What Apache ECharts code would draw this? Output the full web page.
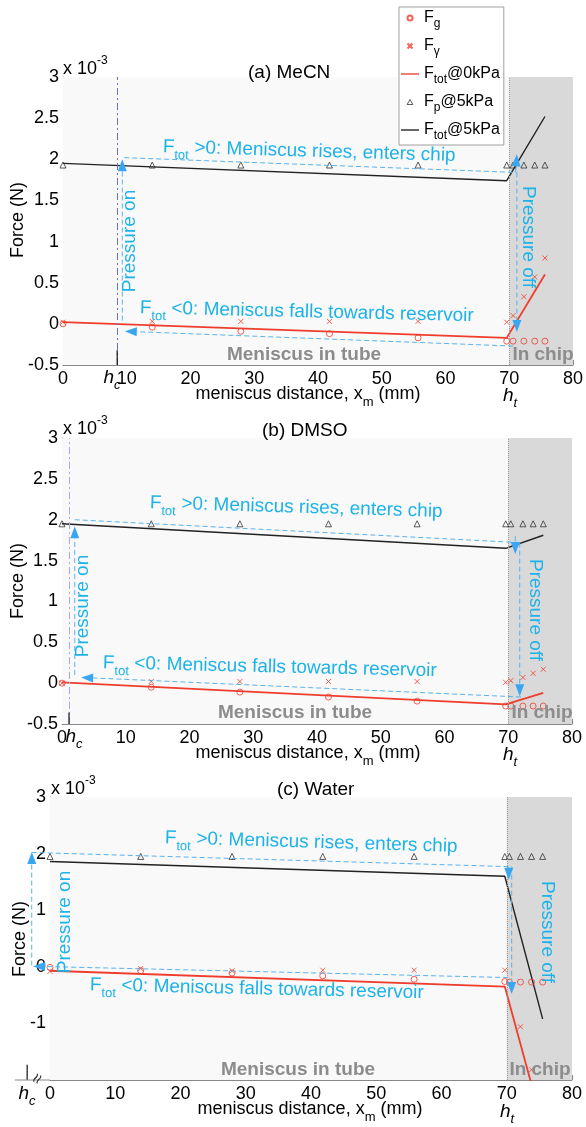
<!DOCTYPE html>
<html><head><meta charset="utf-8">
<script src="https://cdn.jsdelivr.net/npm/echarts@6/dist/echarts.min.js"></script>
<style>html,body{margin:0;padding:0;background:#fff}#c{width:586px;height:1127px}</style>
</head><body><div id="c"></div>
<script>
// ================= DATA =================
// (a) MeCN
const xMeCN     = [0, 14.0, 27.9, 41.8, 55.7, 69.6, 70.6, 72.3, 74.0, 75.6];
const FgMeCN    = [0.00, -0.04, -0.09, -0.12, -0.17, -0.21, -0.21, -0.21, -0.21, -0.21];
const FgamMeCN  = [0.02, 0.03, 0.03, 0.03, 0.03, 0.02, 0.10, 0.33, 0.57, 0.80];
const FpMeCN    = [1.93, 1.93, 1.93, 1.93, 1.93, 1.93, 1.93, 1.93, 1.93, 1.93];
const totXMeCN  = [0, 69.6, 75.6];
const Ftot0MeCN = [0.02, -0.17, 0.60];
const Ftot5MeCN = [1.95, 1.74, 2.52];
// (b) DMSO
const xDMSO     = [0, 14.0, 27.9, 41.8, 55.7, 69.6, 70.4, 72.3, 73.9, 75.5];
const FgDMSO    = [0.00, -0.05, -0.11, -0.17, -0.22, -0.28, -0.28, -0.28, -0.28, -0.28];
const FgamDMSO  = [0.00, 0.02, 0.02, 0.02, 0.02, 0.01, 0.03, 0.07, 0.12, 0.17];
const FpDMSO    = [1.95, 1.95, 1.95, 1.95, 1.95, 1.95, 1.95, 1.95, 1.95, 1.95];
const totXDMSO  = [0, 69.6, 75.5];
const Ftot0DMSO = [0.01, -0.26, -0.12];
const Ftot5DMSO = [1.95, 1.65, 1.81];
// (c) Water
const xWater     = [0, 13.9, 27.9, 41.8, 55.8, 69.7, 70.4, 72.1, 73.8, 75.5];
const FgWater    = [-0.01, -0.07, -0.11, -0.16, -0.22, -0.26, -0.27, -0.27, -0.27, -0.27];
const FgamWater  = [-0.08, -0.03, -0.07, -0.06, -0.06, -0.06, null, -1.06, -1.82, null];
const FpWater    = [1.95, 1.95, 1.95, 1.95, 1.95, 1.95, 1.95, 1.95, 1.95, 1.95];
const totXWater  = [0, 69.7, 75.5];
const Ftot0Water = [-0.07, -0.35, -2.80];
const Ftot5Water = [1.86, 1.60, -0.92];

// annotation arrows [x1, y1, x2(tip), y2(tip), head]
const arrowsMeCN = [[9.3,0.04,9.3,2.00,1],[9.6,2.02,71.1,1.84,0],[71.0,1.84,71.2,2.06,1],[71.2,1.84,71.2,-0.10,1],[70.6,-0.27,9.7,-0.09,1]];
const arrowsDMSO = [[2.0,0.10,2.0,1.92,1],[2.0,2.00,71.8,1.72,0],[71.1,1.80,71.1,1.58,1],[71.8,1.72,71.8,-0.16,1],[72.0,-0.17,3.0,0.07,1]];
const arrowsWater= [[-2.8,0.02,-2.8,2.03,1],[-2.8,2.02,70.3,1.77,0],[70.3,1.77,70.3,1.54,1],[70.75,1.77,70.75,-0.48,1],[70.2,-0.19,-2.6,0.01,1]];

// ================= STYLE =================
const F = '"Liberation Sans", Arial, Helvetica, sans-serif';
const RED = '#ee3d2d', BLACK = '#222222', BLUE_T = '#1db3e9', BLUE_L = '#58b3f0', BLUE_H = '#3aa6f0', GRAY_T = '#8c8c8c';

const panels = [
  {x:xMeCN, Fg:FgMeCN, Fgam:FgamMeCN, Fp:FpMeCN, tx:totXMeCN, t0:Ftot0MeCN, t5:Ftot5MeCN, arrows:arrowsMeCN,
   ymin:-0.5, ymax:3, yint:0.5, grid:{left:63, right:13, top:77, height:288},
   hc:8.5, hcColor:'#6c6cd8', hcTick:[-0.5,-0.32], ext:null},
  {x:xDMSO, Fg:FgDMSO, Fgam:FgamDMSO, Fp:FpDMSO, tx:totXDMSO, t0:Ftot0DMSO, t5:Ftot5DMSO, arrows:arrowsDMSO,
   ymin:-0.5, ymax:3, yint:0.5, grid:{left:62, right:14, top:438, height:286},
   hc:1.1, hcColor:'#a8a8f0', hcTick:[-0.5,-0.36], ext:null},
  {x:xWater, Fg:FgWater, Fgam:FgamWater, Fp:FpWater, tx:totXWater, t0:Ftot0Water, t5:Ftot5Water, arrows:arrowsWater,
   ymin:-2, ymax:3, yint:1, grid:{left:50, right:14, top:797, height:283},
   hc:-3.5, hcColor:null, hcTick:[-2,-1.73], ext:-5.4}
];

const pairs = (xs, ys) => xs.map((x, i) => [x, ys[i]]).filter(p => p[1] != null);

const grids = [], xAxes = [], yAxes = [], series = [];
panels.forEach((p, i) => {
  grids.push(Object.assign({containLabel:false}, p.grid));
  xAxes.push({gridIndex:i, type:'value', min:0, max:80, interval:10,
    axisLine:{show:true, onZero:false, lineStyle:{color:'#888', width:1}},
    axisTick:{show:true, inside:true, length:5, lineStyle:{color:'#888'}},
    axisLabel:{color:'#000', fontSize:18, fontFamily:F, margin:5, showMinLabel:true, showMaxLabel:true},
    splitLine:{show:false}});
  yAxes.push({gridIndex:i, type:'value', min:p.ymin, max:p.ymax, interval:p.yint,
    axisLine:{show:true, onZero:false, lineStyle:{color:'#888', width:1}},
    axisTick:{show:false},
    axisLabel:{color:'#000', fontSize:18, fontFamily:F, margin:4, showMinLabel:true, showMaxLabel:true,
      formatter: v => (p.ymin === -2 && v === -2) ? '' : String(v)},
    splitLine:{show:false}});

  const ml = [];
  const seg = (x1,y1,x2,y2,ls) => ml.push([{coord:[x1,y1], lineStyle:ls}, {coord:[x2,y2], lineStyle:ls}]);
  seg(70, p.ymin, 70, p.ymax, {color:'#9a9a9a', type:'dotted', width:1});
  if (p.hcColor) seg(p.hc, p.ymin, p.hc, p.ymax, {color:p.hcColor, type:[7,3,2,3], width:1});

  series.push({type:'line', xAxisIndex:i, yAxisIndex:i, data:[], z:1, silent:true,
    markArea:{silent:true, label:{show:false},
      data:[[{coord:[0,p.ymin], itemStyle:{color:'#f9f9f9'}},{coord:[70,p.ymax], itemStyle:{color:'#f9f9f9'}}],
            [{coord:[70,p.ymin], itemStyle:{color:'#d9d9d9'}},{coord:[80,p.ymax], itemStyle:{color:'#d9d9d9'}}]]},
    markLine:{silent:true, symbol:['none','none'], label:{show:false}, emphasis:{disabled:true}, animation:false, data:ml}});

  series.push({name:'Ftot0', type:'line', xAxisIndex:i, yAxisIndex:i, data:pairs(p.tx,p.t0), symbol:'none', z:3,
    lineStyle:{color:RED, width:1.8}, itemStyle:{color:RED}, emphasis:{disabled:true}});
  series.push({name:'Ftot5', type:'line', xAxisIndex:i, yAxisIndex:i, data:pairs(p.tx,p.t5), symbol:'none', z:3,
    lineStyle:{color:BLACK, width:1.4}, itemStyle:{color:BLACK}, emphasis:{disabled:true}});
  series.push({name:'Fg', type:'scatter', xAxisIndex:i, yAxisIndex:i, data:pairs(p.x,p.Fg), symbol:'circle', symbolSize:6, z:4,
    itemStyle:{color:'rgba(0,0,0,0)', borderColor:RED, borderWidth:1}, emphasis:{disabled:true}});
  series.push({name:'Fgamma', type:'scatter', xAxisIndex:i, yAxisIndex:i, data:pairs(p.x,p.Fgam), symbol:'path://M0,0L10,10M10,0L0,10', symbolSize:5, z:4,
    itemStyle:{color:'rgba(0,0,0,0)', borderColor:RED, borderWidth:1}, emphasis:{disabled:true}});
  series.push({name:'Fp5', type:'scatter', xAxisIndex:i, yAxisIndex:i, data:pairs(p.x,p.Fp), symbol:'triangle', symbolSize:6, z:4,
    itemStyle:{color:'rgba(0,0,0,0)', borderColor:'#333', borderWidth:1}, emphasis:{disabled:true}});
});

// ================= TEXT =================
const RB = {m:{fontSize:19, fontFamily:F, lineHeight:22, verticalAlign:'middle'},
            s:{fontSize:13, fontFamily:F, lineHeight:29, verticalAlign:'bottom'}};
const RX = {m:{fontSize:18, fontFamily:F, lineHeight:22, verticalAlign:'middle'},
            s:{fontSize:13, fontFamily:F, lineHeight:29, verticalAlign:'bottom'}};
const RH = {h:{fontSize:19, fontFamily:F, fontStyle:'italic', lineHeight:22, verticalAlign:'middle'},
            c:{fontSize:13, fontFamily:F, fontStyle:'italic', lineHeight:28, verticalAlign:'bottom'}};
const RE = {m:{fontSize:18, fontFamily:F, lineHeight:28, verticalAlign:'middle'},
            p:{fontSize:12, fontFamily:F, lineHeight:14, verticalAlign:'top'}};
function T(x, y, text, o) {
  o = o || {};
  return {type:'text', x:x, y:y, z:50, silent:true, rotation:o.rot || 0,
    style:{text:text, fill:o.fill || '#000', fontSize:o.size || 18, fontFamily:F,
      fontWeight:o.weight || 'normal', fontStyle:o.style || 'normal',
      align:o.align || 'left', verticalAlign:'middle', rich:o.rich}};
}
const gfx = [];
const panelText = [
  {title:'(a) MeCN', tx:248, ty:73, ex:63, ey:69, fy:220, fx:18, nx:308, ny:394, tickY:378, hcx:112, htx:510,
   on:[130,241], off:[528,237], up:[163,147], dn:[140,308], tube:[304,355], chip:[543,355]},
  {title:'(b) DMSO', tx:262, ty:431, ex:63, ey:429, fy:581, fx:18, nx:308, ny:753, tickY:737, hcx:74, htx:510,
   on:[83,606], off:[535,610], up:[150,503], dn:[103,663], tube:[295,713], chip:[542,713]},
  {title:'(c) Water', tx:277, ty:790, ex:51, ey:789, fy:939, fx:20, nx:310, ny:1109, tickY:1094, hcx:27, htx:507,
   on:[65,922], off:[547,932], up:[165,838], dn:[90,985], tube:[298,1070], chip:[540,1070]}
];
panelText.forEach(t => {
  gfx.push(T(t.tx, t.ty, t.title, {size:19}));
  gfx.push(T(t.ex, t.ey, '{m|x 10}{p|-3}', {rich:RE}));
  gfx.push(T(t.fx, t.fy, 'Force (N)', {rot:Math.PI/2, align:'center'}));
  gfx.push(T(t.nx, t.ny, '{m|meniscus distance, x}{s|m}{m| (mm)}', {rich:RX, align:'center'}));
  gfx.push(T(t.hcx, t.tickY, '{h|h}{c|c}', {rich:RH, align:'center'}));
  gfx.push(T(t.htx, t.tickY + 18, '{h|h}{c|t}', {rich:RH, align:'center'}));
  gfx.push(T(t.on[0], t.on[1], 'Pressure on', {rot:Math.PI/2, align:'center', size:19, fill:BLUE_T}));
  gfx.push(T(t.off[0], t.off[1], 'Pressure off', {rot:-Math.PI/2, align:'center', size:19, fill:BLUE_T}));
  gfx.push(T(t.up[0], t.up[1], '{m|F}{s|tot}{m| >0: Meniscus rises, enters chip}', {rich:RB, fill:BLUE_T, rot:-0.03}));
  gfx.push(T(t.dn[0], t.dn[1], '{m|F}{s|tot}{m| <0: Meniscus falls towards reservoir}', {rich:RB, fill:BLUE_T, rot:-0.024}));
  gfx.push(T(t.tube[0], t.tube[1], 'Meniscus in tube', {align:'center', size:19, weight:'bold', fill:GRAY_T}));
  gfx.push(T(t.chip[0], t.chip[1], 'In chip', {align:'center', size:19, weight:'bold', fill:GRAY_T}));
});
gfx.push(T(38, 1079, '≈', {rot:1.1, align:'center', size:18, fill:'#333'}));

const legendNames = {Fg:'{m|F}{s|g}', Fgamma:'{m|F}{s|γ}', Ftot0:'{m|F}{s|tot}{m|@0kPa}',
                     Fp5:'{m|F}{s|p}{m|@5kPa}', Ftot5:'{m|F}{s|tot}{m|@5kPa}'};
const LINE_ICON = 'path://M0,0H20V1.5H0Z';

const chart = echarts.init(document.getElementById('c'), null, {renderer:'canvas'});
chart.setOption({
  animation:false,
  textStyle:{fontFamily:F},
  grid:grids, xAxis:xAxes, yAxis:yAxes, series:series,
  legend:{data:[{name:'Fg'},{name:'Fgamma', icon:'path://M0,0L10,10M10,0L0,10'},{name:'Ftot0', icon:LINE_ICON},
                {name:'Fp5', icon:'path://M5,0L10,8.66L0,8.66Z', itemStyle:{color:'rgba(0,0,0,0)', borderColor:'#333', borderWidth:1}},
                {name:'Ftot5', icon:LINE_ICON}],
    orient:'vertical', left:399, top:7, symbolKeepAspect:true,
    backgroundColor:'#fff', borderColor:'#a0a0a0', borderWidth:1, borderRadius:0,
    padding:[3,4,3,2], itemGap:8, itemWidth:18, itemHeight:5, selectedMode:false, z:20,
    formatter: n => legendNames[n],
    textStyle:{color:'#000', fontFamily:F, fontSize:16,
      rich:{m:{fontSize:16, fontFamily:F, lineHeight:18, verticalAlign:'middle', color:'#000'},
            s:{fontSize:12, fontFamily:F, lineHeight:24, verticalAlign:'bottom', color:'#000'}}}}
});

// ---- annotation lines/arrows drawn in data coordinates via the grids' scales ----
function px(i, x, y) { return chart.convertToPixel({gridIndex:i}, [x, y]); }
function gLine(a, b, stroke, dash, w) {
  return {type:'line', z:40, silent:true, shape:{x1:a[0], y1:a[1], x2:b[0], y2:b[1]},
          style:{stroke:stroke, lineWidth:w || 1, lineDash:dash || null}};
}
panels.forEach((p, i) => {
  p.arrows.forEach(ar => {
    const a = px(i, ar[0], ar[1]), b = px(i, ar[2], ar[3]);
    if (!ar[4]) { gfx.push(gLine(a, b, BLUE_L, [5,3])); return; }
    const dx = b[0]-a[0], dy = b[1]-a[1], L = Math.hypot(dx, dy) || 1;
    const ux = dx/L, uy = dy/L, hl = Math.min(12, L), hw = 4.5;
    const bc = [b[0]-ux*hl, b[1]-uy*hl];
    gfx.push(gLine(a, bc, BLUE_L, [5,3]));
    gfx.push({type:'polygon', z:41, silent:true,
      shape:{points:[[b[0],b[1]],[bc[0]-uy*hw, bc[1]+ux*hw],[bc[0]+uy*hw, bc[1]-ux*hw]]},
      style:{fill:BLUE_H}});
  });
  gfx.push(gLine(px(i, p.hc, p.hcTick[0]), px(i, p.hc, p.hcTick[1]), '#111', null, 1.2));
  if (p.ext != null) gfx.push(gLine(px(i, p.ext, p.ymin), px(i, 0, p.ymin), '#888', null, 1));
});
chart.setOption({graphic:{elements:gfx}});
</script></body></html>
